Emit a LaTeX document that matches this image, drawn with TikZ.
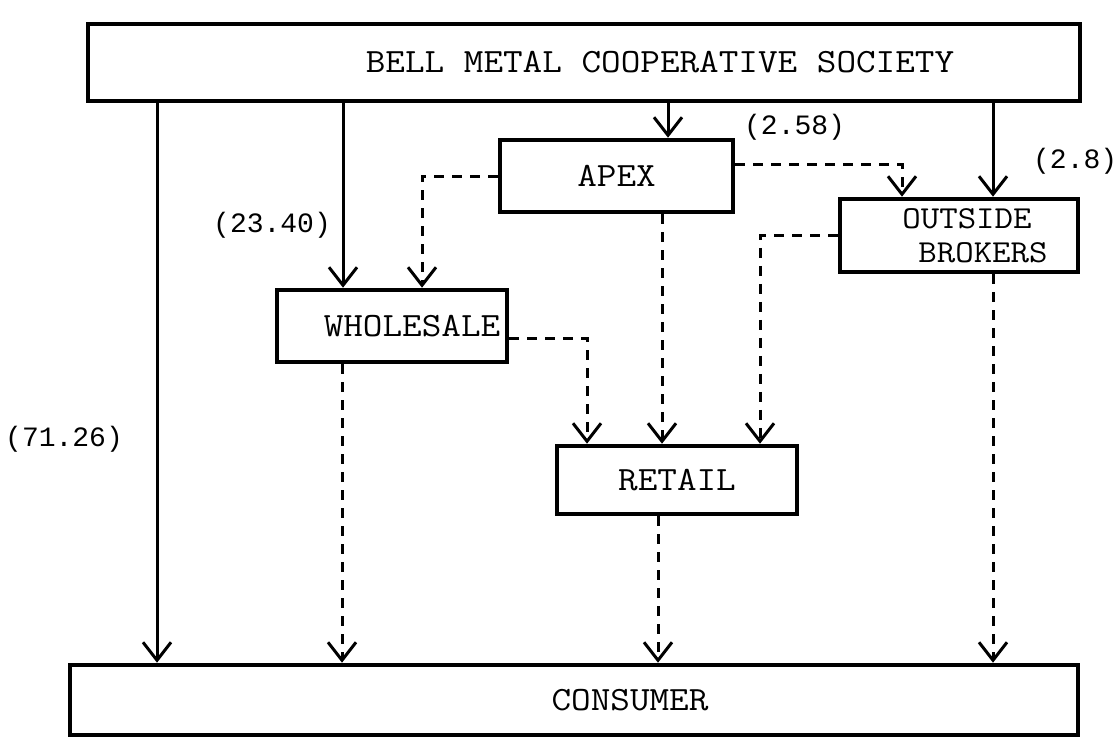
\documentclass[tikz,border=0pt]{standalone}
\usepackage{fontspec}
\setmonofont[FakeStretch=1.12]{Latin Modern Mono}
\newfontfamily\sharefont{Liberation Mono}
\usepackage{tikz}
\usetikzlibrary{arrows.meta, positioning}
\tikzset{
  block/.style={rectangle, minimum width=3cm, minimum height=36pt, text centered, draw=black, line width=2.3pt, font=\ttfamily\fontsize{17}{19}\selectfont},
  arrow/.style={line width=1.5pt,-{Straight Barb[length=9pt,width=14pt]}},
  dashedarrow/.style={arrow, dash pattern=on 5pt off 4pt},
  share/.style={font=\sharefont\fontsize{14}{16}\selectfont}
}

\begin{document}
\begin{tikzpicture}[x=0.5pt, y=-0.5pt]
\useasboundingbox (0,0) rectangle (1118,751);

\node[block, minimum width=496pt, minimum height=38.5pt] (bms) at (584,62.5) {\hspace*{76pt}BELL METAL COOPERATIVE SOCIETY};
\node[block, minimum width=116.5pt] (apex) at (616.5,176) {APEX};
\node[block, minimum width=119pt, minimum height=36.5pt, inner ysep=1pt, align=center, font=\ttfamily\fontsize{16}{17}\selectfont] (brokers) at (959,235.5) {\hspace*{8pt}OUTSIDE\\\hspace*{24pt}BROKERS};
\node[block, minimum width=112.5pt] (wholesale) at (392,326) {\hspace*{20pt}WHOLESALE};
\node[block, minimum width=120pt, minimum height=34pt] (retail) at (677,480) {RETAIL};
\node[block, minimum width=504pt, minimum height=35pt] (consumer) at (574,700) {\hspace*{56pt}CONSUMER};

% direct sales from the society
\draw[arrow] (bms.south -| 157,0) -- (consumer.north -| 157,0) node[share, pos=0.6, left=13pt] {(71.26)};
\draw[arrow] (bms.south -| 343,0) -- (wholesale.north -| 343,0) node[share, pos=0.66, left=2pt] {(23.40)};
\draw[arrow] (bms.south -| 668,0) -- (apex.north -| 668,0) node[share, pos=0.7, right=34pt] {(2.58)};
\draw[arrow] (bms.south -| 993,0) -- (brokers.north -| 993,0) node[share, pos=0.62, right=16pt] {(2.8)};

% onward channels
\draw[dashedarrow] (apex.west) -| (wholesale.north -| 422,0);
\draw[dashedarrow] ([yshift=6pt]apex.east) -| (brokers.north -| 902,0);
\draw[dashedarrow] (apex.south -| 662,0) -- (retail.north -| 662,0);
\draw[dashedarrow] (brokers.west) -| (retail.north -| 760,0);
\draw[dashedarrow] ([yshift=-6pt]wholesale.east) -| (retail.north -| 587,0);

\draw[dashedarrow] (wholesale.south -| 342,0) -- (consumer.north -| 342,0);
\draw[dashedarrow] (retail.south -| 658,0) -- (consumer.north -| 658,0);
\draw[dashedarrow] (brokers.south -| 993,0) -- (consumer.north -| 993,0);
\end{tikzpicture}
\end{document}
